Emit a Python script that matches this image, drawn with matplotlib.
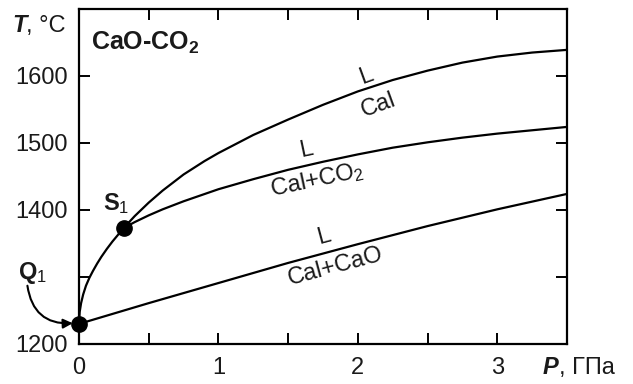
import matplotlib
matplotlib.use("Agg")
import matplotlib.pyplot as plt

plt.rcParams['font.family'] = ['Liberation Sans', 'DejaVu Sans']
plt.rcParams['mathtext.fontset'] = 'custom'
plt.rcParams['mathtext.rm'] = 'Liberation Sans'
plt.rcParams['mathtext.bf'] = 'Liberation Sans:bold'
plt.rcParams['mathtext.it'] = 'Liberation Sans:italic'

# ---- data (P in GPa, T in degC) ----
p_q1s1 = [0, 0.005, 0.015, 0.03, 0.05, 0.075, 0.1, 0.13, 0.16, 0.2, 0.24, 0.28, 0.32]
t_q1s1 = [1230, 1248, 1261, 1274, 1287, 1299, 1309, 1320, 1330, 1342, 1353, 1363, 1373]

p_cal = [0.32, 0.4, 0.5, 0.6, 0.75, 0.9, 1.0, 1.25, 1.5, 1.75, 2.0, 2.25, 2.5, 2.75, 3.0, 3.25, 3.5]
t_cal = [1373, 1391, 1411, 1429, 1453, 1473, 1485, 1512, 1535, 1557, 1577, 1594, 1608, 1620, 1629, 1635, 1639]

p_calco2 = [0.32, 0.4, 0.5, 0.6, 0.75, 1.0, 1.25, 1.5, 1.75, 2.0, 2.25, 2.5, 2.75, 3.0, 3.25, 3.5]
t_calco2 = [1373, 1382, 1392, 1401, 1413, 1431, 1446, 1460, 1472, 1483, 1493, 1501, 1508, 1514, 1519, 1524]

p_calcao = [0, 0.5, 1.0, 1.5, 2.0, 2.5, 3.0, 3.5]
t_calcao = [1230, 1261, 1291, 1321, 1349, 1376, 1401, 1424]

point_names = ['Q$_1$', 'S$_1$']
point_p = [0.0, 0.32]
point_t = [1230, 1373]

x_major = [0, 1, 2, 3]
x_minor = [0.5, 1.5, 2.5]
y_ticks = [1200, 1300, 1400, 1500, 1600, 1700]
y_labels = ['1200', '', '1400', '1500', '1600', '']

txt = '#1a1a1a'
fig = plt.figure(figsize=(6.33, 3.84), dpi=100)
ax = fig.add_axes([79/633, 1-344/384, (567-79)/633, (344-9)/384])
ax.set_xlim(0, 3.5)
ax.set_ylim(1200, 1700)

lw = 1.6
for p, t in [(p_q1s1, t_q1s1), (p_cal, t_cal), (p_calco2, t_calco2), (p_calcao, t_calcao)]:
    ax.plot(p, t, color='black', lw=lw, solid_capstyle='round', solid_joinstyle='round', zorder=3)

ax.plot(point_p, point_t, 'o', color='black', ms=11, zorder=4, clip_on=False)

for s in ax.spines.values():
    s.set_linewidth(1.6)

ax.set_xticks(x_major)
ax.set_xticklabels([str(v) for v in x_major])
ax.set_xticks(x_minor, minor=True)
ax.set_yticks(y_ticks)
ax.set_yticklabels(y_labels)
ax.tick_params(which='both', direction='in', top=True, right=True, length=8, width=1.4,
               labelsize=17, labelcolor=txt)
ax.tick_params(axis='x', pad=9)
ax.tick_params(axis='y', pad=8)

fs = 17
# curve labels
ax.text(2.06, 1600, 'L', fontsize=fs, rotation=20, ha='center', va='center', color=txt)
ax.text(2.15, 1557, 'Cal', fontsize=fs, rotation=20, ha='center', va='center', color=txt)
ax.text(1.63, 1490, 'L', fontsize=fs, rotation=12, ha='center', va='center', color=txt)
ax.text(1.71, 1445, 'Cal+CO$_2$', fontsize=fs, rotation=12, ha='center', va='center', color=txt)
ax.text(1.76, 1360, 'L', fontsize=fs, rotation=15, ha='center', va='center', color=txt)
ax.text(1.84, 1316, 'Cal+CaO', fontsize=fs, rotation=15, ha='center', va='center', color=txt)

# point labels
ax.text(0.27, 1409, point_names[1], fontsize=fs, fontweight='bold', ha='center', va='center', color=txt)
ax.text(-0.33, 1306, point_names[0], fontsize=fs, fontweight='bold', ha='center', va='center',
        color=txt, clip_on=False)
ax.annotate('', xy=(-0.045, 1231), xytext=(-0.37, 1287), annotation_clip=False,
            arrowprops=dict(arrowstyle='-|>', connectionstyle='arc3,rad=0.45', lw=1.5,
                            color='black', mutation_scale=14, shrinkA=0, shrinkB=0))

# title
ax.text(12/488*3.5, 1650, r'CaO-CO$_\mathbf{2}$', fontsize=18, fontweight='bold', ha='left',
        va='center', color=txt)

# axis labels
tl = fig.text(66/633, 1-26/384, ', °C', fontsize=17, ha='right', va='center', color=txt)
ax.annotate('T', xy=(0, 0.5), xycoords=tl, fontsize=17, fontweight='bold', fontstyle='italic',
            ha='right', va='center', color=txt, annotation_clip=False)
pl = fig.text(543/633, 1-368/384, 'P', fontsize=17, fontweight='bold', fontstyle='italic',
              ha='left', va='center', color=txt)
ax.annotate(', ГПа', xy=(1, 0.5), xycoords=pl, fontsize=17, ha='left', va='center', color=txt,
            annotation_clip=False)

fig.savefig('out.png', dpi=100)
